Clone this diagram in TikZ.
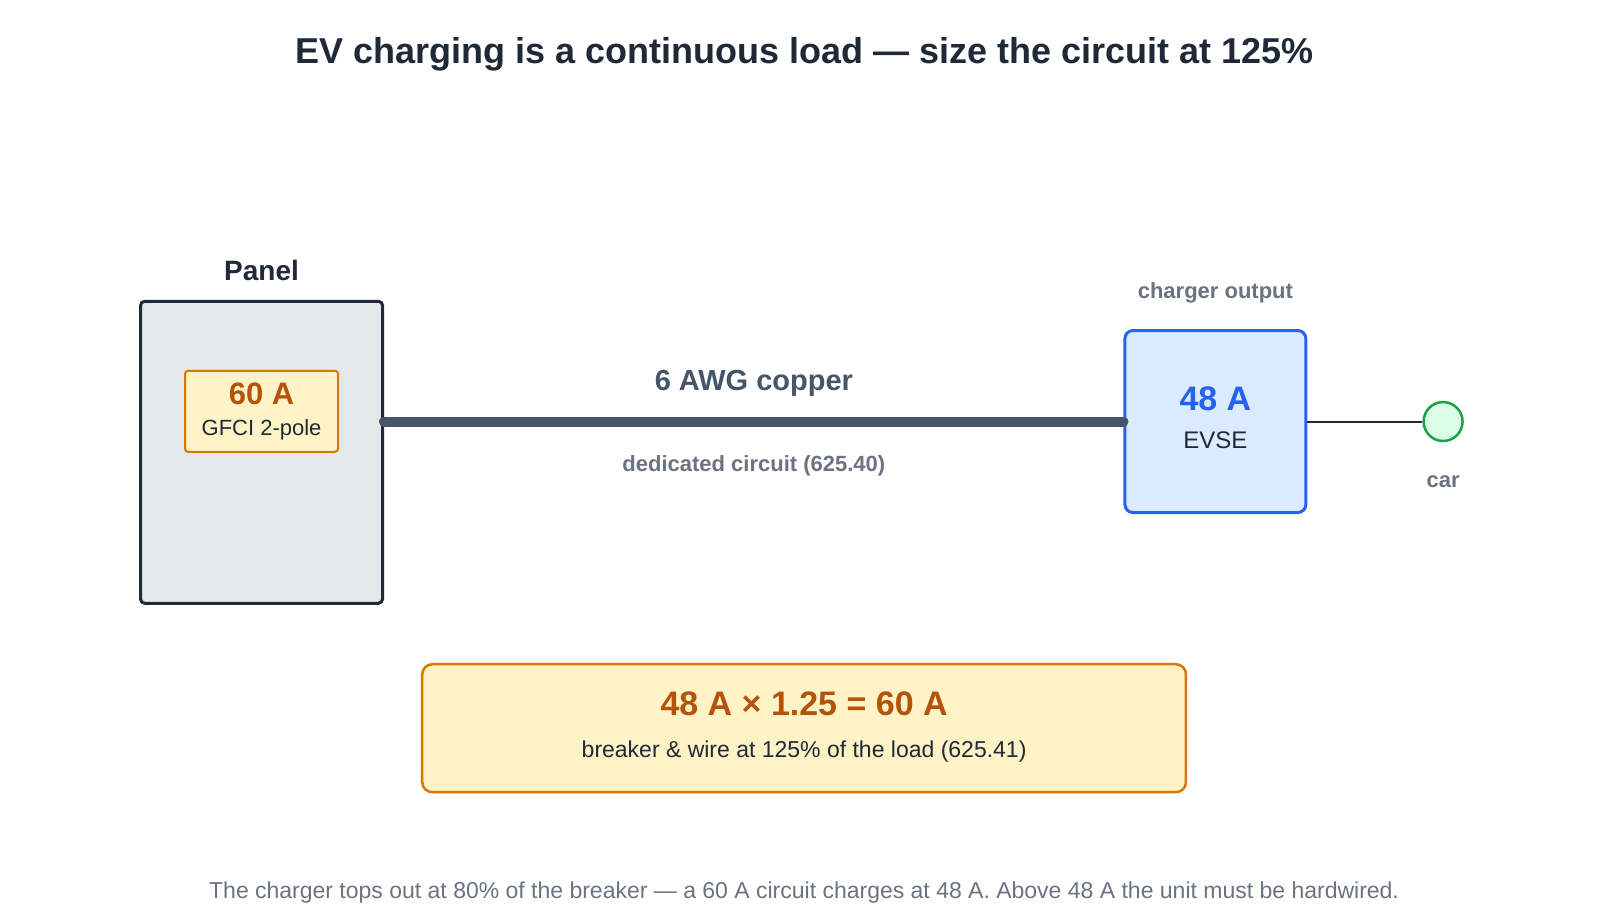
\documentclass[tikz,border=0pt]{standalone}
\usepackage{fontspec}
\setmainfont{Liberation Sans}
\definecolor{ink}{HTML}{1F2937}
\definecolor{gr}{HTML}{6B7280}
\definecolor{wire}{HTML}{475569}
\definecolor{org}{HTML}{B45309}
\definecolor{orgl}{HTML}{D97706}
\definecolor{yel}{HTML}{FEF3C7}
\definecolor{blu}{HTML}{2563EB}
\definecolor{blul}{HTML}{DBEAFE}
\definecolor{grn}{HTML}{16A34A}
\definecolor{grnl}{HTML}{DCFCE7}
\definecolor{pan}{HTML}{E5E7EB}
\tikzset{
 fs/.style={font=\fontsize{#1}{#1}\selectfont},
 lbl/.style={text=gr,font=\fontsize{22}{22}\selectfont\bfseries},
}
\begin{document}
\begin{tikzpicture}[x=1.026pt,y=-1.026pt]
\useasboundingbox (0,0) rectangle (1560,897);
\node[text=ink,font=\fontsize{36}{36}\selectfont\bfseries] (title) at (784,53) {EV charging is a continuous load — size the circuit at 125\%};
\node[draw=ink,line width=3pt,fill=pan,rounded corners=4pt,minimum width=242pt,minimum height=302pt] (panel) at (255,441) {};
\node[text=ink,font=\fontsize{28}{28}\selectfont\bfseries] (plabel) at (255,264) {Panel};
\node[draw=orgl,line width=2pt,fill=yel,rounded corners=3pt,minimum width=153pt,minimum height=81pt,align=center] (brk) at (255,401) {};
\node[text=org,font=\fontsize{31}{31}\selectfont\bfseries] (brka) at (255,384) {60 A};
\node[text=ink,fs=22] (brkb) at (255,419) {GFCI 2-pole};
\node[draw=blu,line width=3pt,fill=blul,rounded corners=8pt,minimum width=181pt,minimum height=182pt] (evse) at (1185,411) {};
\node[text=blu,font=\fontsize{34}{34}\selectfont\bfseries] (evsea) at (1185,389) {48 A};
\node[text=ink,fs=24] (evseb) at (1185,429) {EVSE};
\node[lbl] (co) at (1185,286) {charger output};
\node[circle,draw=grn,line width=2.5pt,fill=grnl,minimum size=39pt,inner sep=0] (car) at (1407,411) {};
\node[lbl] (carl) at (1407,470) {car};
\draw[wire,line width=10pt,line cap=round] (panel.east |- 0,411) -- (evse.west);
\draw[ink,line width=2pt] (evse.east) -- (car.west);
\node[text=wire,font=\fontsize{29}{29}\selectfont\bfseries] (awg) at (735,374) {6 AWG copper};
\node[lbl] (ded) at (735,454) {dedicated circuit (625.40)};
\node[draw=orgl,line width=2.5pt,fill=yel,rounded corners=10pt,minimum width=764pt,minimum height=128pt] (form) at (784,710) {};
\node[text=org,font=\fontsize{34}{34}\selectfont\bfseries] (forma) at (784,686) {48 A × 1.25 = 60 A};
\node[text=ink,fs=23] (formb) at (784,733) {breaker \& wire at 125\% of the load (625.41)};
\node[text=gr,fs=23] (foot) at (784,870) {The charger tops out at 80\% of the breaker — a 60 A circuit charges at 48 A. Above 48 A the unit must be hardwired.};
\end{tikzpicture}
\end{document}
